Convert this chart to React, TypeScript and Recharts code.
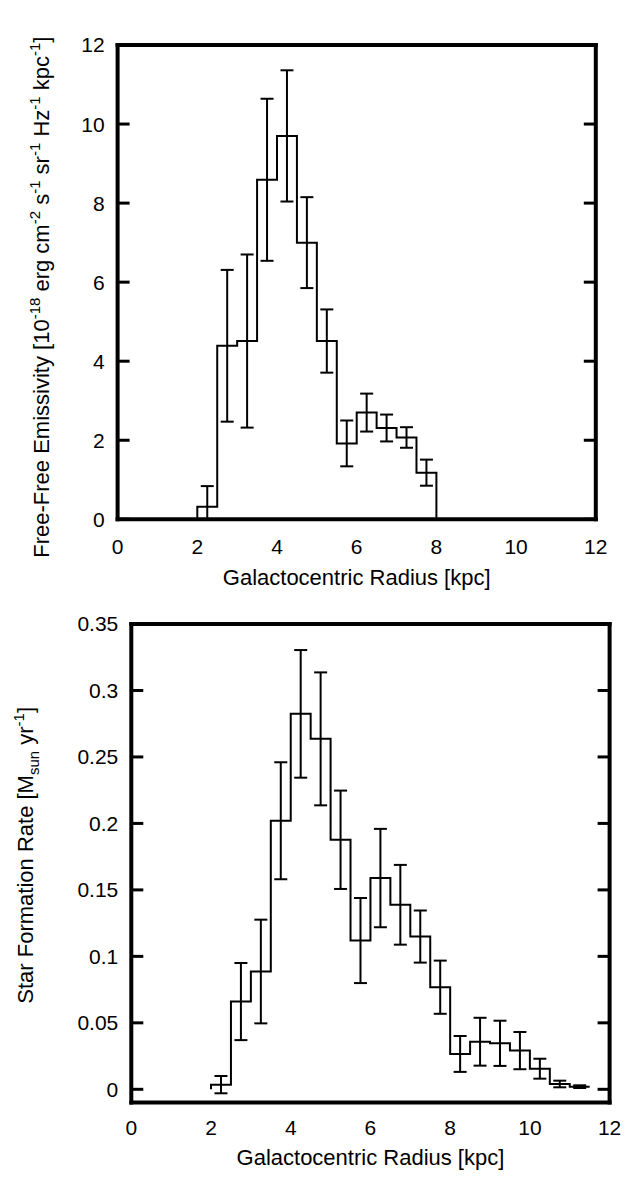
import { ComposedChart, Line, Scatter, ErrorBar, XAxis, YAxis, Label } from "recharts";

const FONT = "'Liberation Sans', Arial, Helvetica, sans-serif";
const BIN = 0.5;

// free-free emissivity, 0.5 kpc bins
const topBinStarts = [2, 2.5, 3, 3.5, 4, 4.5, 5, 5.5, 6, 6.5, 7, 7.5];
const topValues = [0.32, 4.39, 4.51, 8.59, 9.7, 7.0, 4.51, 1.92, 2.7, 2.31, 2.07, 1.18];
const topErrors = [0.52, 1.92, 2.19, 2.05, 1.66, 1.15, 0.8, 0.58, 0.48, 0.34, 0.26, 0.33];

// star formation rate, 0.5 kpc bins
const botBinStarts = [2, 2.5, 3, 3.5, 4, 4.5, 5, 5.5, 6, 6.5, 7, 7.5, 8, 8.5, 9, 9.5, 10, 10.5, 11];
const botValues = [
  0.0035, 0.066, 0.0886, 0.202, 0.2824, 0.2636, 0.1877, 0.1119, 0.1589, 0.1388,
  0.1149, 0.0768, 0.0266, 0.0358, 0.0346, 0.0291, 0.0155, 0.004, 0.002,
];
const botErrors = [
  0.0065, 0.029, 0.039, 0.044, 0.048, 0.05, 0.037, 0.032, 0.037, 0.03,
  0.0196, 0.02, 0.0135, 0.018, 0.017, 0.014, 0.0075, 0.0025, 0.001,
];

const xTicks = [0, 2, 4, 6, 8, 10, 12];
const topYTicks = [0, 2, 4, 6, 8, 10, 12];
const botYTicks = [0, 0.05, 0.1, 0.15, 0.2, 0.25, 0.3, 0.35];

type Pt = { x: number; y: number };

function stepData(starts: number[], values: number[], dropToZero: boolean): Pt[] {
  const pts: Pt[] = [{ x: starts[0], y: 0 }];
  starts.forEach((s, i) => pts.push({ x: s, y: values[i] }));
  const end = starts[starts.length - 1] + BIN;
  pts.push({ x: end, y: dropToZero ? 0 : values[values.length - 1] });
  return pts;
}

// error bars clipped at the bottom of the frame, like gnuplot does
function barData(starts: number[], values: number[], errors: number[], yMin: number) {
  return starts.map((s, i) => ({
    x: s + BIN / 2,
    y: values[i],
    err: [Math.min(errors[i], values[i] - yMin), errors[i]],
  }));
}

const frame = { stroke: "#000", strokeWidth: 4, strokeLinecap: "square" as const };
const tickMark = { stroke: "#000", strokeWidth: 3 };
const tickText = { fill: "#000", fontSize: 21, fontFamily: FONT };
const blank = () => "";
const noShape = () => <g />;

type Part = [string, string, boolean?];

function supText(parts: Part[], supSize: number) {
  const out: any[] = [];
  let raised = 0;
  parts.forEach(([base, sup, sub], i) => {
    out.push(
      <tspan key={"b" + i} dy={raised}>
        {base}
      </tspan>
    );
    raised = 0;
    if (sup) {
      raised = sub ? -6 : 9;
      out.push(
        <tspan key={"s" + i} dy={-raised} fontSize={supSize}>
          {sup}
        </tspan>
      );
    }
  });
  return out;
}

const topYParts: Part[] = [
  ["Free-Free Emissivity [10", "-18"],
  [" erg cm", "-2"],
  [" s", "-1"],
  [" sr", "-1"],
  [" Hz", "-1"],
  [" kpc", "-1"],
  ["]", ""],
];

const botYParts: Part[] = [
  ["Star Formation Rate [M", "sun", true],
  [" yr", "-1"],
  ["]", ""],
];

function yTitle(parts: Part[], baseX: number, shift: number) {
  return (props: any) => {
    const vb = props.viewBox;
    const x = vb.x + baseX;
    const y = vb.y + vb.height / 2 + shift;
    return (
      <text
        x={x}
        y={y}
        transform={`rotate(-90 ${x} ${y})`}
        textAnchor="middle"
        fontSize={22}
        fontFamily={FONT}
        fill="#000"
      >
        {supText(parts, 15)}
      </text>
    );
  };
}

function xTitle(dy: number) {
  return (props: any) => {
    const vb = props.viewBox;
    return (
      <text
        x={vb.x + vb.width / 2}
        y={vb.y + dy}
        textAnchor="middle"
        fontSize={22}
        fontFamily={FONT}
        fill="#000"
      >
        Galactocentric Radius [kpc]
      </text>
    );
  };
}

interface PanelProps {
  width: number;
  height: number;
  margin: { top: number; right: number; left: number; bottom: number };
  yAxisWidth: number;
  xAxisHeight: number;
  xTickMargin: number;
  xTitleDy: number;
  yDomain: [number, number];
  yTicks: number[];
  steps: Pt[];
  bars: { x: number; y: number; err: number[] }[];
  yLabel: (props: any) => any;
}

function Panel(p: PanelProps) {
  return (
    <ComposedChart width={p.width} height={p.height} margin={p.margin}>
      <XAxis
        xAxisId="b"
        dataKey="x"
        type="number"
        domain={[0, 12]}
        ticks={xTicks}
        allowDataOverflow
        height={p.xAxisHeight}
        tickLine={false}
        axisLine={false}
        tickSize={0}
        tickMargin={p.xTickMargin}
        tick={tickText}
      >
        <Label content={xTitle(p.xTitleDy)} />
      </XAxis>
      <XAxis
        xAxisId="bm"
        orientation="bottom"
        mirror
        type="number"
        domain={[0, 12]}
        ticks={xTicks}
        allowDataOverflow
        tickSize={12}
        tickLine={tickMark}
        axisLine={frame}
        tickFormatter={blank}
      />
      <XAxis
        xAxisId="tm"
        orientation="top"
        mirror
        type="number"
        domain={[0, 12]}
        ticks={xTicks}
        allowDataOverflow
        tickSize={12}
        tickLine={tickMark}
        axisLine={frame}
        tickFormatter={blank}
      />
      <YAxis
        yAxisId="l"
        dataKey="y"
        type="number"
        domain={p.yDomain}
        ticks={p.yTicks}
        allowDataOverflow
        width={p.yAxisWidth}
        tickLine={false}
        axisLine={false}
        tickSize={0}
        tickMargin={13}
        tick={tickText}
      >
        <Label content={p.yLabel} />
      </YAxis>
      <YAxis
        yAxisId="lm"
        orientation="left"
        mirror
        type="number"
        domain={p.yDomain}
        ticks={p.yTicks}
        allowDataOverflow
        tickSize={12}
        tickLine={tickMark}
        axisLine={frame}
        tickFormatter={blank}
      />
      <YAxis
        yAxisId="rm"
        orientation="right"
        mirror
        type="number"
        domain={p.yDomain}
        ticks={p.yTicks}
        allowDataOverflow
        tickSize={12}
        tickLine={tickMark}
        axisLine={frame}
        tickFormatter={blank}
      />
      <Line
        xAxisId="b"
        yAxisId="l"
        data={p.steps}
        dataKey="y"
        type="stepAfter"
        stroke="#000"
        strokeWidth={2}
        dot={false}
        activeDot={false}
        isAnimationActive={false}
      />
      <Scatter
        xAxisId="b"
        yAxisId="l"
        data={p.bars}
        dataKey="y"
        shape={noShape}
        isAnimationActive={false}
      >
        <ErrorBar dataKey="err" direction="y" width={6.5} stroke="#000" strokeWidth={2} isAnimationActive={false} />
      </Scatter>
    </ComposedChart>
  );
}

const topSteps = stepData(topBinStarts, topValues, true);
const topBars = barData(topBinStarts, topValues, topErrors, 0);
const botSteps = stepData(botBinStarts, botValues, false);
const botBars = barData(botBinStarts, botValues, botErrors, -0.01);

export default function App() {
  return (
    <div style={{ position: "absolute", left: 0, top: 0, width: 627, height: 1178, background: "#fff" }}>
      <div style={{ position: "absolute", left: 0, top: 0 }}>
        <Panel
          width={627}
          height={600}
          margin={{ top: 45, right: 31.2, left: 0, bottom: 0 }}
          yAxisWidth={117.6}
          xAxisHeight={80.7}
          xTickMargin={20}
          xTitleDy={66}
          yDomain={[0, 12]}
          yTicks={topYTicks}
          steps={topSteps}
          bars={topBars}
          yLabel={yTitle(topYParts, 49, 15)}
        />
      </div>
      <div style={{ position: "absolute", left: 0, top: 600 }}>
        <Panel
          width={627}
          height={578}
          margin={{ top: 24, right: 17.4, left: 0, bottom: 0 }}
          yAxisWidth={131.3}
          xAxisHeight={75.4}
          xTickMargin={17}
          xTitleDy={62}
          yDomain={[-0.01, 0.35]}
          yTicks={botYTicks}
          steps={botSteps}
          bars={botBars}
          yLabel={yTitle(botYParts, 33, -8)}
        />
      </div>
    </div>
  );
}
